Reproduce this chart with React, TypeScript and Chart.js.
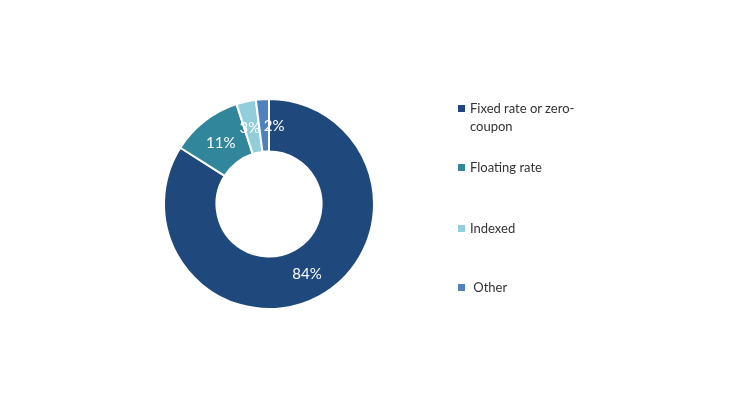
import React, { useEffect, useRef } from 'react';
import Chart from 'chart.js/auto';

const categories = ['Fixed rate or zero-\ncoupon', 'Floating rate', 'Indexed', ' Other'];
const shares = [84, 11, 3, 2];
const colors = ['#1f497d', '#31869b', '#92cddc', '#4f81bd'];
// small nudges for crowded labels (px)
const labelNudgeX = [0, 0, -2, 10];
const legendTops = [99, 158, 219, 278];

const labelPlugin = {
  id: 'sliceLabels',
  afterDatasetsDraw(chart: any) {
    const ctx = chart.ctx;
    const meta = chart.getDatasetMeta(0);
    ctx.save();
    ctx.font = '15px Lato, "Open Sans", sans-serif';
    ctx.fillStyle = '#ffffff';
    ctx.textAlign = 'center';
    ctx.textBaseline = 'middle';
    meta.data.forEach((arc: any, i: number) => {
      const p = arc.tooltipPosition();
      ctx.fillText(shares[i] + '%', p.x + labelNudgeX[i], p.y + 1);
    });
    ctx.restore();
  },
};

export default function App() {
  const canvasRef = useRef<HTMLCanvasElement>(null);
  const chartRef = useRef<Chart | null>(null);

  useEffect(() => {
    if (!canvasRef.current) return;
    if (chartRef.current) chartRef.current.destroy();
    const ctx = canvasRef.current.getContext('2d');
    if (!ctx) return;

    chartRef.current = new Chart(ctx, {
      type: 'doughnut',
      data: {
        labels: categories,
        datasets: [
          {
            data: shares,
            backgroundColor: colors,
            borderColor: '#ffffff',
            borderWidth: 2,
          },
        ],
      },
      options: {
        responsive: false,
        animation: false,
        cutout: '50%',
        layout: { padding: { left: 163, right: 355, top: 98, bottom: 100 } },
        plugins: {
          legend: { display: false },
          tooltip: { enabled: false },
        },
      },
      plugins: [labelPlugin],
    });

    return () => {
      if (chartRef.current) {
        chartRef.current.destroy();
        chartRef.current = null;
      }
    };
  }, []);

  return (
    <div
      style={{
        position: 'fixed',
        left: 0,
        top: 0,
        width: 730,
        height: 410,
        background: '#ffffff',
        fontFamily: 'Lato, "Open Sans", sans-serif',
      }}
    >
      <canvas ref={canvasRef} width={730} height={410} />
      {categories.map((c, i) => (
        <div
          key={c}
          style={{
            position: 'absolute',
            left: 458,
            top: legendTops[i],
            display: 'flex',
            alignItems: 'flex-start',
            fontSize: 13,
            lineHeight: '18px',
            color: '#333333',
          }}
        >
          <span
            style={{
              width: 7,
              height: 7,
              background: colors[i],
              marginTop: 6,
              marginRight: 5,
              flexShrink: 0,
            }}
          />
          <span style={{ whiteSpace: 'pre' }}>{c}</span>
        </div>
      ))}
    </div>
  );
}
